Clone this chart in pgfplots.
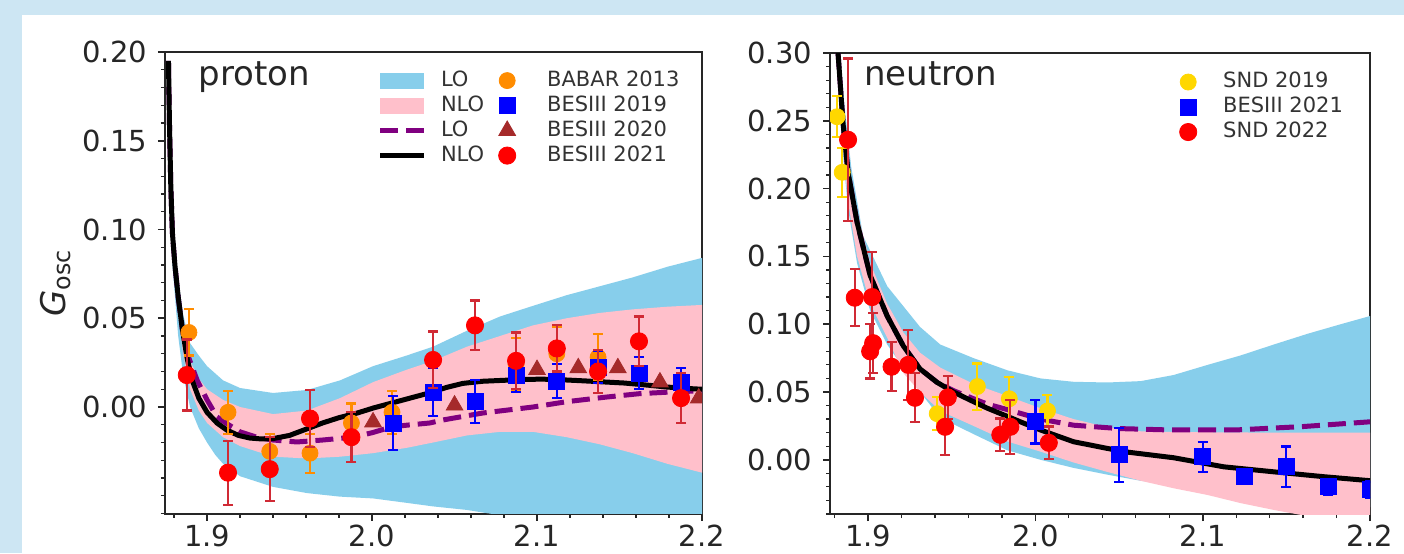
\documentclass[border=0pt]{standalone}
\usepackage{pgfplots}
\pgfplotsset{compat=1.18}
\usepackage{fontspec}
\setmainfont{DejaVu Sans}
\definecolor{skyb}{HTML}{87CEEB}
\definecolor{pinkc}{HTML}{FFC0CB}
\definecolor{purp}{HTML}{800080}
\definecolor{dorange}{HTML}{FF8C00}
\definecolor{brownc}{HTML}{A52A2A}
\definecolor{goldc}{HTML}{FFD700}
\definecolor{bgblue}{RGB}{205,230,243}
\definecolor{redbar}{HTML}{D02A35}
\pgfplotsset{
  myax/.style={scale only axis, anchor=south west,
    axis line style={line width=1pt, black!85},
    tick align=outside, tick pos=left,
    major tick length=3.5pt, minor tick length=2pt,
    tick style={line width=0.8pt, black!85},
    minor tick style={line width=0.6pt},
    tick label style={font=\fontsize{14.5}{17}\selectfont, text=black!85},
    xticklabel style={yshift=1.5pt},
    yticklabel style={xshift=-2pt},
    clip marker paths=true,
    xtick={1.9,2.0,2.1,2.2}, xticklabels={1.9,2.0,2.1,2.2},
    minor xtick={1.88,1.90,...,2.20},
    legend cell align=left,
  },
  band/.style={draw=none, fill=#1, legend image code/.code={\fill[#1] (0pt,-4pt) rectangle (22pt,4pt); \path[draw=none,fill=none] (29pt,0pt);}},
  lin/.style={legend image code/.code={\draw[##1] (0pt,0pt) -- (22pt,0pt); \path[draw=none,fill=none] (29pt,0pt);}},
  dat/.style 2 args={only marks, mark=#1, color=#2, mark options={fill=#2, draw=#2}},
  eb/.style={error bars/.cd, y dir=both, y explicit,
    error bar style={line width=1.1pt, color=#1},
    error mark options={rotate=90, mark size=2.5pt, line width=1.1pt, color=#1}},
  legm/.style n args={4}{legend image code/.code={\path[draw=none,fill=none] (0pt,0pt) -- (#4,0pt); \draw[only marks, mark=#1, mark size=#2, color=#3, mark options={fill=#3}] plot coordinates {(8pt,0pt)};}},
}
\begin{document}
\begin{tikzpicture}
\fill[bgblue] (0,0) rectangle (702pt,276.5pt);
\fill[white] (11pt,0) rectangle (702pt,269pt);
% ---------------- proton ----------------
\begin{axis}[myax, at={(82.5pt,19.75pt)}, width=268.5pt, height=230.75pt,
  xmin=1.8745, xmax=2.2, ymin=-0.06, ymax=0.2,
  ytick={0,0.05,0.10,0.15,0.20}, yticklabels={0.00,0.05,0.10,0.15,0.20},
  minor ytick={-0.06,-0.05,...,0.20},
  ylabel={\textit{G}\textsubscript{osc}},
  ylabel style={font=\fontsize{17}{20}\selectfont, text=black!85, at={(axis description cs:-0.162,0.5)}, anchor=south},
  legend columns=4, transpose legend,
  legend style={draw=none, fill=none, inner sep=0pt, at={(axis description cs:0.395,0.966)}, anchor=north west,
    font=\fontsize{10.5}{12}\selectfont, text=black!80,
    nodes={inner sep=1.5pt, text height=7.5pt, text depth=2pt},
    /tikz/every even column/.append style={column sep=2pt}},
]
\addplot[band=skyb] coordinates {
(1.8766,0.195)(1.8790,0.105)(1.8825,0.072)(1.8855,0.052)(1.8897,0.036)(1.895,0.029)(1.9,0.023)(1.9097,0.015)(1.92,0.0107)(1.94,0.0079)(1.9606,0.0096)(1.9806,0.015)(2.0006,0.023)(2.021,0.029)(2.037,0.034)(2.0576,0.043)(2.0776,0.051)(2.0976,0.057)(2.118,0.063)(2.138,0.068)(2.158,0.073)(2.179,0.079)(2.2,0.084)
(2.2,-0.080)(2.179,-0.076)(2.158,-0.072)(2.138,-0.069)(2.118,-0.066)(2.0976,-0.063)(2.0776,-0.061)(2.0576,-0.058)(2.037,-0.056)(2.021,-0.054)(2.0006,-0.0515)(1.9806,-0.0505)(1.9606,-0.0485)(1.94,-0.045)(1.92,-0.039)(1.9097,-0.032)(1.905,-0.027)(1.9,-0.020)(1.895,-0.012)(1.8897,0.000)(1.8855,0.018)(1.8825,0.040)(1.8790,0.080)(1.8766,0.195)};
\addlegendentry{LO}
\addplot[band=pinkc] coordinates {
(1.8766,0.195)(1.8790,0.100)(1.8825,0.068)(1.8855,0.046)(1.8897,0.026)(1.895,0.016)(1.9,0.010)(1.9097,0.004)(1.92,0.000)(1.94,-0.004)(1.9606,-0.002)(1.9806,0.005)(2.0006,0.014)(2.021,0.021)(2.037,0.026)(2.0576,0.034)(2.0776,0.040)(2.0976,0.046)(2.118,0.050)(2.138,0.053)(2.158,0.055)(2.179,0.0565)(2.2,0.0575)
(2.2,-0.037)(2.179,-0.032)(2.158,-0.026)(2.138,-0.021)(2.118,-0.017)(2.0976,-0.014)(2.0776,-0.014)(2.0576,-0.016)(2.037,-0.020)(2.021,-0.023)(2.0006,-0.026)(1.9806,-0.028)(1.9606,-0.029)(1.94,-0.028)(1.92,-0.022)(1.9097,-0.017)(1.9,-0.009)(1.895,-0.002)(1.8897,0.010)(1.8855,0.030)(1.8825,0.052)(1.8790,0.088)(1.8766,0.195)};
\addlegendentry{NLO}
\addplot[lin, purp, line width=2.5pt, dash pattern=on 9pt off 4pt] coordinates {
(1.8766,0.195)(1.8772,0.16)(1.8780,0.125)(1.8790,0.098)(1.8805,0.080)(1.8825,0.062)(1.8850,0.044)(1.888,0.030)(1.894,0.015)(1.900,0.004)(1.906,-0.0056)(1.913,-0.010)(1.920,-0.014)(1.930,-0.017)(1.940,-0.0186)(1.9545,-0.0197)(1.970,-0.0186)(1.9885,-0.017)(2.0,-0.0145)(2.0127,-0.011)(2.035,-0.009)(2.043,-0.0073)(2.067,-0.0034)(2.0976,0)(2.118,0.003)(2.142,0.0056)(2.162,0.0075)(2.188,0.0088)(2.2,0.009)};
\addlegendentry{LO}
\addplot[lin, black, line width=2.5pt] coordinates {
(1.8766,0.195)(1.8772,0.16)(1.8780,0.125)(1.8790,0.098)(1.8805,0.080)(1.8825,0.062)(1.8850,0.044)(1.8880,0.027)(1.891,0.015)(1.895,0.005)(1.900,-0.003)(1.906,-0.009)(1.912,-0.013)(1.919,-0.016)(1.926,-0.0175)(1.933,-0.018)(1.940,-0.0178)(1.950,-0.016)(1.960,-0.0125)(1.970,-0.009)(1.980,-0.006)(1.991,-0.0034)(2.001,-0.0005)(2.011,0.002)(2.023,0.005)(2.035,0.008)(2.045,0.011)(2.055,0.0133)(2.067,0.0145)(2.079,0.015)(2.091,0.0155)(2.103,0.0157)(2.116,0.0153)(2.129,0.0147)(2.141,0.0141)(2.153,0.0135)(2.165,0.0125)(2.178,0.0113)(2.19,0.0105)(2.2,0.010)};
\addlegendentry{NLO}
% BABAR 2013
\addplot[forget plot, dat={*}{dorange}, mark size=4pt, eb=dorange] coordinates {
(1.889,0.042) +- (0,0.013)
(1.9127,-0.003) +- (0,0.012)
(1.938,-0.025) +- (0,0.010)
(1.9624,-0.026) +- (0,0.011)
(1.9875,-0.009) +- (0,0.011)
(2.0121,-0.003) +- (0,0.012)
(2.0873,0.024) +- (0,0.015)
(2.112,0.030) +- (0,0.015)
(2.137,0.028) +- (0,0.013)};
% BESIII 2019
\addplot[forget plot, dat={square*}{blue}, mark size=4pt, eb=blue] coordinates {
(2.0127,-0.009) +- (0,0.015)
(2.037,0.0085) +- (0,0.0135)
(2.0624,0.003) +- (0,0.012)
(2.0873,0.018) +- (0,0.0095)
(2.112,0.0147) +- (0,0.0097)
(2.137,0.0225) +- (0,0.009)
(2.1618,0.019) +- (0,0.009)
(2.1873,0.014) +- (0,0.008)};
% BESIII 2020
\addplot[forget plot, dat={triangle*}{brownc}, mark size=4.8pt] coordinates {
(2.0006,-0.0085)(2.050,0.001)(2.100,0.021)(2.125,0.022)(2.149,0.022)(2.1745,0.014)(2.198,0.005)};
% BESIII 2021
\addplot[forget plot, dat={*}{red}, mark size=4.3pt, eb=redbar] coordinates {
(1.8877,0.018) +- (0,0.02)
(1.9127,-0.037) +- (0,0.018)
(1.938,-0.035) +- (0,0.018)
(1.9624,-0.0065) +- (0,0.016)
(1.9875,-0.017) +- (0,0.014)
(2.037,0.0265) +- (0,0.016)
(2.0624,0.046) +- (0,0.014)
(2.0873,0.026) +- (0,0.016)
(2.112,0.033) +- (0,0.013)
(2.137,0.020) +- (0,0.012)
(2.1618,0.037) +- (0,0.014)
(2.1873,0.005) +- (0,0.014)};
\addlegendimage{legm={*}{4pt}{dorange}{26.5pt}}
\addlegendentry{BABAR 2013}
\addlegendimage{legm={square*}{4pt}{blue}{26.5pt}}
\addlegendentry{BESIII 2019}
\addlegendimage{legm={triangle*}{4.8pt}{brownc}{26.5pt}}
\addlegendentry{BESIII 2020}
\addlegendimage{legm={*}{4.3pt}{red}{26.5pt}}
\addlegendentry{BESIII 2021}
\node[anchor=base west, font=\fontsize{17}{20}\selectfont, text=black!85] at (axis description cs:0.05,0.928) {proton};
\end{axis}
% ---------------- neutron ----------------
\begin{axis}[myax, at={(415pt,19.5pt)}, width=270pt, height=230.5pt,
  xmin=1.8772, xmax=2.2, ymin=-0.04, ymax=0.30,
  ytick={0,0.05,0.10,0.15,0.20,0.25,0.30}, yticklabels={0.00,0.05,0.10,0.15,0.20,0.25,0.30},
  minor ytick={-0.04,-0.03,...,0.30},
  legend style={draw=none, fill=none, inner sep=0pt, at={(axis description cs:0.633,0.965)}, anchor=north west,
    font=\fontsize{10.5}{12}\selectfont, text=black!80,
    nodes={inner sep=1.5pt, text height=7.5pt, text depth=2pt}},
]
\addplot[forget plot, band=skyb] coordinates {
(1.8805,0.34)(1.885,0.27)(1.890,0.215)(1.897,0.165)(1.9114,0.128)(1.931,0.098)(1.9431,0.085)(1.9629,0.075)(1.9832,0.066)(2.003,0.060)(2.0228,0.0575)(2.0431,0.057)(2.0629,0.058)(2.0826,0.0625)(2.103,0.070)(2.1228,0.077)(2.1425,0.085)(2.1629,0.093)(2.1826,0.100)(2.2,0.106)
(2.2,-0.035)(2.16,-0.030)(2.12,-0.024)(2.0826,-0.018)(2.0629,-0.0155)(2.0431,-0.011)(2.0228,-0.006)(2.003,0.000)(1.9832,0.007)(1.9629,0.019)(1.9431,0.031)(1.931,0.050)(1.9114,0.085)(1.9012,0.11)(1.8934,0.145)(1.888,0.185)(1.885,0.225)(1.8805,0.34)};
\addplot[forget plot, band=pinkc] coordinates {
(1.8805,0.34)(1.885,0.255)(1.888,0.22)(1.8934,0.183)(1.9012,0.145)(1.9114,0.115)(1.921,0.094)(1.931,0.079)(1.9431,0.068)(1.9629,0.056)(1.9832,0.047)(2.003,0.038)(2.0228,0.030)(2.0431,0.024)(2.0629,0.021)(2.0826,0.0205)(2.14,0.020)(2.2,0.020)
(2.2,-0.05)(2.16,-0.041)(2.1425,-0.037)(2.1228,-0.032)(2.103,-0.026)(2.0826,-0.021)(2.0629,-0.0155)(2.0431,-0.009)(2.0228,-0.002)(2.003,0.006)(1.9832,0.0135)(1.9629,0.025)(1.9431,0.036)(1.931,0.050)(1.921,0.064)(1.9114,0.09)(1.9012,0.115)(1.8934,0.150)(1.888,0.19)(1.885,0.23)(1.8805,0.34)};
\addplot[forget plot, purp, line width=2.5pt, dash pattern=on 9pt off 4pt] coordinates {
(1.8805,0.34)(1.8812,0.31)(1.882,0.30)(1.885,0.248)(1.888,0.212)(1.8934,0.175)(1.9012,0.136)(1.9114,0.106)(1.921,0.084)(1.931,0.067)(1.9413,0.057)(1.951,0.051)(1.961,0.046)(1.9713,0.041)(1.9832,0.037)(2.003,0.030)(2.0228,0.0255)(2.05,0.023)(2.08,0.022)(2.12,0.022)(2.16,0.0245)(2.2,0.028)};
\addplot[forget plot, black, line width=2.5pt] coordinates {
(1.8805,0.34)(1.8812,0.31)(1.882,0.30)(1.885,0.248)(1.888,0.212)(1.8934,0.175)(1.9012,0.136)(1.9114,0.106)(1.921,0.084)(1.931,0.067)(1.9413,0.057)(1.951,0.050)(1.961,0.044)(1.9713,0.038)(1.9832,0.032)(1.991,0.028)(2.003,0.022)(2.0228,0.0133)(2.0527,0.006)(2.0826,0.0015)(2.1126,-0.0052)(2.1425,-0.0089)(2.1725,-0.0125)(2.2006,-0.0155)};
% SND 2019
\addplot[forget plot, dat={*}{goldc}, mark size=4pt, eb=goldc] coordinates {
(1.8814,0.253) +- (0,0.015)
(1.8845,0.212) +- (0,0.018)
(1.9413,0.034) +- (0,0.012)
(1.9653,0.054) +- (0,0.017)
(1.9844,0.045) +- (0,0.016)
(2.0072,0.036) +- (0,0.012)};
% BESIII 2021
\addplot[forget plot, dat={square*}{blue}, mark size=4pt, eb=blue] coordinates {
(2.0,0.028) +- (0,0.016)
(2.05,0.0037) +- (0,0.02)
(2.1,0.0022) +- (0,0.011)
(2.125,-0.0125) +- (0,0.004)
(2.15,-0.0052) +- (0,0.015)
(2.175,-0.020) +- (0,0.006)
(2.2,-0.022) +- (0,0.006)};
% SND 2022
\addplot[forget plot, dat={*}{red}, mark size=4.3pt, eb=redbar] coordinates {
(1.888,0.236) +- (0,0.06)
(1.892,0.1195) +- (0,0.021)
(1.9024,0.120) +- (0,0.033)
(1.9012,0.080) +- (0,0.02)
(1.9030,0.086) +- (0,0.022)
(1.914,0.0686) +- (0,0.018)
(1.924,0.070) +- (0,0.026)
(1.928,0.0457) +- (0,0.018)
(1.946,0.0243) +- (0,0.021)
(1.9476,0.046) +- (0,0.016)
(1.979,0.0184) +- (0,0.012)
(1.985,0.0243) +- (0,0.02)
(2.008,0.0125) +- (0,0.012)};
\addlegendimage{legm={*}{4pt}{goldc}{24pt}}
\addlegendentry{SND 2019}
\addlegendimage{legm={square*}{4pt}{blue}{24pt}}
\addlegendentry{BESIII 2021}
\addlegendimage{legm={*}{4.3pt}{red}{24pt}}
\addlegendentry{SND 2022}
\node[anchor=base west, font=\fontsize{17}{20}\selectfont, text=black!85] at (axis description cs:0.05,0.93) {neutron};
\end{axis}
\pgfresetboundingbox
\useasboundingbox (0,0) rectangle (702pt,276.5pt);
\end{tikzpicture}
\end{document}
